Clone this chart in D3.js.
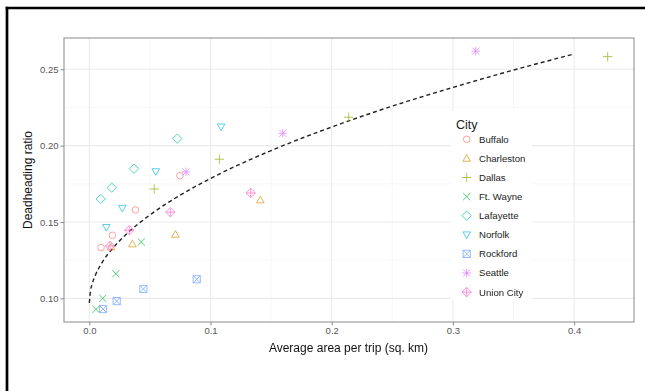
<!DOCTYPE html>
<html><head><meta charset="utf-8">
<script src="https://cdn.jsdelivr.net/npm/d3@7"></script>
<style>body{margin:0;background:#fff}svg{display:block;font-family:"Liberation Sans",Arial,sans-serif}</style>
</head><body><svg id="c" width="645" height="391"></svg>
<script>
const cities = ["Buffalo","Charleston","Dallas","Ft. Wayne","Lafayette","Norfolk","Rockford","Seattle","Union City"];
const colors = ["#F8766D","#D39200","#93AA00","#00BA38","#00C19F","#00B9E3","#619CFF","#DB72FB","#FF61C3"];
const shapes = ["circle","triangle","plus","cross","diamond","triangleDown","squareX","asterisk","diamondPlus"];
const areaValues = [
  [0.0097,0.0190,0.0380,0.0747],
  [0.0179,0.0355,0.0710,0.1411],
  [0.0536,0.1073,0.2140,0.4277],
  [0.0055,0.0111,0.0218,0.0429],
  [0.0094,0.0185,0.0369,0.0726],
  [0.0140,0.0272,0.0548,0.1087],
  [0.0113,0.0226,0.0446,0.0886],
  [0.0798,0.1596,0.3188],
  [0.0171,0.0330,0.0668,0.1332]
];
const ratioValues = [
  [0.1332,0.1413,0.1579,0.1803],
  [0.1336,0.1356,0.1419,0.1644],
  [0.1716,0.1911,0.2186,0.2583],
  [0.0928,0.1000,0.1161,0.1369],
  [0.1651,0.1725,0.1849,0.2046],
  [0.1465,0.1590,0.1830,0.2123],
  [0.0930,0.0982,0.1061,0.1125],
  [0.1828,0.2081,0.2619],
  [0.1343,0.1446,0.1564,0.1690]
];
const fitX = [0,0.001,0.002,0.005,0.01,0.02,0.03,0.05,0.075,0.1,0.15,0.2,0.25,0.3,0.35,0.4];
const fitY = [0.097,0.1052,0.1085,0.1152,0.1228,0.1334,0.1416,0.1546,0.1676,0.1785,0.1968,0.2122,0.2259,0.2381,0.2495,0.26];
const xTicks = [0,0.1,0.2,0.3,0.4];
const xMinor = [0.05,0.15,0.25,0.35];
const yTicks = [0.10,0.15,0.20,0.25];
const yMinor = [0.125,0.175,0.225];

const svg = d3.select("#c");
const L=64,R=634,T=38,B=322;
const x = d3.scaleLinear().domain([-0.0209,0.4494]).range([L,R]);
const y = d3.scaleLinear().domain([0.0845,0.2705]).range([B,T]);

// frame
svg.append("line").attr("x1",5.7).attr("x2",645).attr("y1",8).attr("y2",8).attr("stroke","#000").attr("stroke-width",2.7);
svg.append("line").attr("x1",7).attr("x2",7).attr("y1",6.7).attr("y2",391).attr("stroke","#000").attr("stroke-width",2.7);

const g = svg.append("g");
// grid
g.selectAll(".xm").data(xMinor).join("line").attr("x1",d=>x(d)).attr("x2",d=>x(d)).attr("y1",T).attr("y2",B).attr("stroke","#F2F2F2").attr("stroke-width",0.6);
g.selectAll(".ym").data(yMinor).join("line").attr("y1",d=>y(d)).attr("y2",d=>y(d)).attr("x1",L).attr("x2",R).attr("stroke","#F2F2F2").attr("stroke-width",0.6);
g.selectAll(".xM").data(xTicks).join("line").attr("x1",d=>x(d)).attr("x2",d=>x(d)).attr("y1",T).attr("y2",B).attr("stroke","#EBEBEB").attr("stroke-width",1.1);
g.selectAll(".yM").data(yTicks).join("line").attr("y1",d=>y(d)).attr("y2",d=>y(d)).attr("x1",L).attr("x2",R).attr("stroke","#EBEBEB").attr("stroke-width",1.1);

// axes
const xa = svg.append("g").attr("transform",`translate(0,${B})`).call(d3.axisBottom(x).tickValues(xTicks).tickFormat(d3.format(".1f")).tickSize(3.5).tickPadding(2));
const ya = svg.append("g").attr("transform",`translate(${L},0)`).call(d3.axisLeft(y).tickValues(yTicks).tickFormat(d3.format(".2f")).tickSize(3.5).tickPadding(2));
[xa,ya].forEach(a=>{a.select(".domain").remove();a.selectAll("line").attr("stroke","#8a8a8a");a.selectAll("text").attr("fill","#555").style("font-size","9.5px").style("font-family","'Liberation Sans',Arial,sans-serif");});

// fit line
const line = d3.line().x((d,i)=>x(fitX[i])).y(d=>y(d)).curve(d3.curveMonotoneX);
svg.append("path").attr("d",line(fitY)).attr("fill","none").attr("stroke","#222").attr("stroke-width",1.4).attr("stroke-dasharray","4,3");

// symbols
function sym(sel, shape, color){
  const s=3.6;
  const st={stroke:color,"stroke-width":0.9,fill:"none"};
  const add=(tag,attrs)=>{const e=sel.append(tag);Object.entries(Object.assign({},st,attrs)).forEach(([k,v])=>e.attr(k,v));return e;};
  switch(shape){
    case "circle": add("circle",{r:3.3}); break;
    case "triangle": add("path",{d:`M0,${-s*1.05}L${s*1.05},${s*0.8}L${-s*1.05},${s*0.8}Z`}); break;
    case "plus": add("path",{d:`M${-s*1.3},0H${s*1.3}M0,${-s*1.3}V${s*1.3}`}); break;
    case "cross": add("path",{d:`M${-s},${-s}L${s},${s}M${-s},${s}L${s},${-s}`}); break;
    case "diamond": add("path",{d:`M0,${-s*1.3}L${s*1.3},0L0,${s*1.3}L${-s*1.3},0Z`}); break;
    case "triangleDown": add("path",{d:`M0,${s*1.05}L${s*1.05},${-s*0.8}L${-s*1.05},${-s*0.8}Z`}); break;
    case "squareX": add("path",{d:`M${-s},${-s}H${s}V${s}H${-s}Z M${-s},${-s}L${s},${s}M${-s},${s}L${s},${-s}`}); break;
    case "asterisk": add("path",{d:`M${-s*1.2},0H${s*1.2}M0,${-s*1.2}V${s*1.2}M${-s},${-s}L${s},${s}M${-s},${s}L${s},${-s}`}); break;
    case "diamondPlus": add("path",{d:`M0,${-s*1.3}L${s*1.3},0L0,${s*1.3}L${-s*1.3},0Z M0,${-s*1.3}V${s*1.3}M${-s*1.3},0H${s*1.3}`}); break;
  }
}
const pts = svg.append("g").attr("opacity",0.75);
cities.forEach((c,i)=>{
  areaValues[i].forEach((a,j)=>{
    const gg = pts.append("g").attr("transform",`translate(${x(a)},${y(ratioValues[i][j])})`);
    sym(gg, shapes[i], colors[i]);
  });
});

// panel border
svg.append("rect").attr("x",L).attr("y",T).attr("width",R-L).attr("height",B-T).attr("fill","none").attr("stroke","#8a8a8a").attr("stroke-width",1);

// legend
const lg = svg.append("g");
lg.append("rect").attr("x",451).attr("y",111).attr("width",81).attr("height",188).attr("fill","#fff");
lg.append("text").attr("x",456).attr("y",129).text("City").style("font-size","12.5px").attr("fill","#222");
cities.forEach((c,i)=>{
  const yy = 139.3 + i*19.1;
  const gg = lg.append("g").attr("transform",`translate(466.7,${yy})`).attr("opacity",0.75);
  sym(gg, shapes[i], colors[i]);
  lg.append("text").attr("x",479).attr("y",yy+3.4).text(c).style("font-size","9.6px").attr("fill","#222");
});

// axis titles
svg.append("text").attr("x",348.5).attr("y",352).attr("text-anchor","middle").text("Average area per trip (sq. km)").style("font-size","12px").attr("fill","#111");
svg.append("text").attr("transform",`translate(32,${(T+B)/2}) rotate(-90)`).attr("text-anchor","middle").text("Deadheading ratio").style("font-size","12px").attr("fill","#111");
</script></body></html>
